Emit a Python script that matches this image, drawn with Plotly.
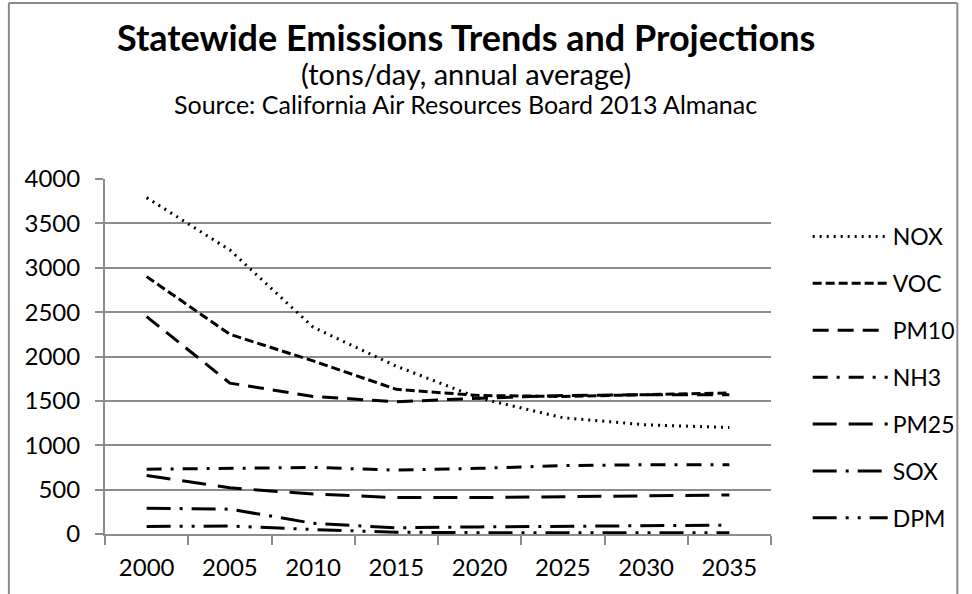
import plotly.graph_objects as go

years = ["2000", "2005", "2010", "2015", "2020", "2025", "2030", "2035"]
NOX = [3790, 3200, 2330, 1890, 1530, 1310, 1230, 1200]
VOC = [2900, 2250, 1950, 1630, 1560, 1550, 1570, 1590]
PM10 = [2450, 1700, 1550, 1490, 1530, 1560, 1570, 1570]
NH3 = [730, 740, 750, 720, 740, 770, 780, 780]
PM25 = [660, 520, 450, 410, 410, 420, 430, 440]
SOX = [290, 280, 120, 70, 80, 85, 90, 100]
DPM = [85, 90, 50, 20, 15, 15, 15, 15]

series = [
    ("NOX", NOX, "2px,5px"),
    ("VOC", VOC, "9px,4px"),
    ("PM10", PM10, "16px,9px"),
    ("NH3", NH3, "15px,9px,3px,9px"),
    ("PM25", PM25, "24px,12px"),
    ("SOX", SOX, "24px,9px,3px,9px"),
    ("DPM", DPM, "24px,9px,3px,9px,3px,9px"),
]

FONT = "Lato"

fig = go.Figure()
for i, (name, vals, dash) in enumerate(series):
    fig.add_trace(go.Scatter(
        x=years, y=vals, name=name, mode="lines",
        line=dict(color="black", width=3, dash=dash),
        legendgroup=name,
    ))

W, H = 972, 594
L, R, T, B = 105, 777, 179, 534

def py(ypx):
    return 1 + (T - ypx) / (B - T)

def px(xpx):
    return (xpx - L) / (R - L)

fig.update_layout(
    width=W, height=H, autosize=False,
    margin=dict(l=L, r=W - R, t=T, b=H - B),
    paper_bgcolor="white", plot_bgcolor="white",
    font=dict(family=FONT, color="black", size=23),
    showlegend=True,
    legend=dict(
        x=px(814), y=py(215), xanchor="left", yanchor="top",
        font=dict(size=23, family=FONT),
        tracegroupgap=14, itemwidth=75,
        bgcolor="rgba(0,0,0,0)",
    ),
    xaxis=dict(
        type="category", tickson="boundaries",
        showline=True, linecolor="#8c8c8c", linewidth=2,
        ticks="outside", ticklen=9, tickcolor="#8c8c8c", tickwidth=2,
        showgrid=False, tickfont=dict(size=24, family=FONT),
        range=[-0.5, 7.5], ticklabelstandoff=11,
    ),
    yaxis=dict(
        range=[0, 4000], dtick=500,
        showline=True, linecolor="#8c8c8c", linewidth=2,
        ticks="outside", ticklen=8, tickcolor="#8c8c8c", tickwidth=2,
        showgrid=True, gridcolor="#8c8c8c", gridwidth=2,
        zeroline=False, tickfont=dict(size=24, family=FONT),
        ticklabelstandoff=10,
    ),
    annotations=[
        dict(text="<b>Statewide Emissions Trends and Projections</b>", xref="paper", yref="paper",
             x=px(469), y=py(37), xanchor="center", yanchor="middle", showarrow=False,
             font=dict(size=36, family=FONT)),
        dict(text="(tons/day, annual average)", xref="paper", yref="paper",
             x=px(469), y=py(74), xanchor="center", yanchor="middle", showarrow=False,
             font=dict(size=29, family=FONT)),
        dict(text="Source: California Air Resources Board 2013 Almanac", xref="paper", yref="paper",
             x=px(469), y=py(104), xanchor="center", yanchor="middle", showarrow=False,
             font=dict(size=25, family=FONT)),
    ],
    shapes=[
        dict(type="line", xref="paper", yref="paper", x0=px(8), x1=px(8), y0=py(3), y1=py(600),
             line=dict(color="#8c8c8c", width=2)),
        dict(type="line", xref="paper", yref="paper", x0=px(8), x1=px(965), y0=py(3), y1=py(3),
             line=dict(color="#8c8c8c", width=2)),
        dict(type="line", xref="paper", yref="paper", x0=px(965), x1=px(965), y0=py(3), y1=py(600),
             line=dict(color="#8c8c8c", width=2)),
    ],
)

fig.write_html("out.html")
